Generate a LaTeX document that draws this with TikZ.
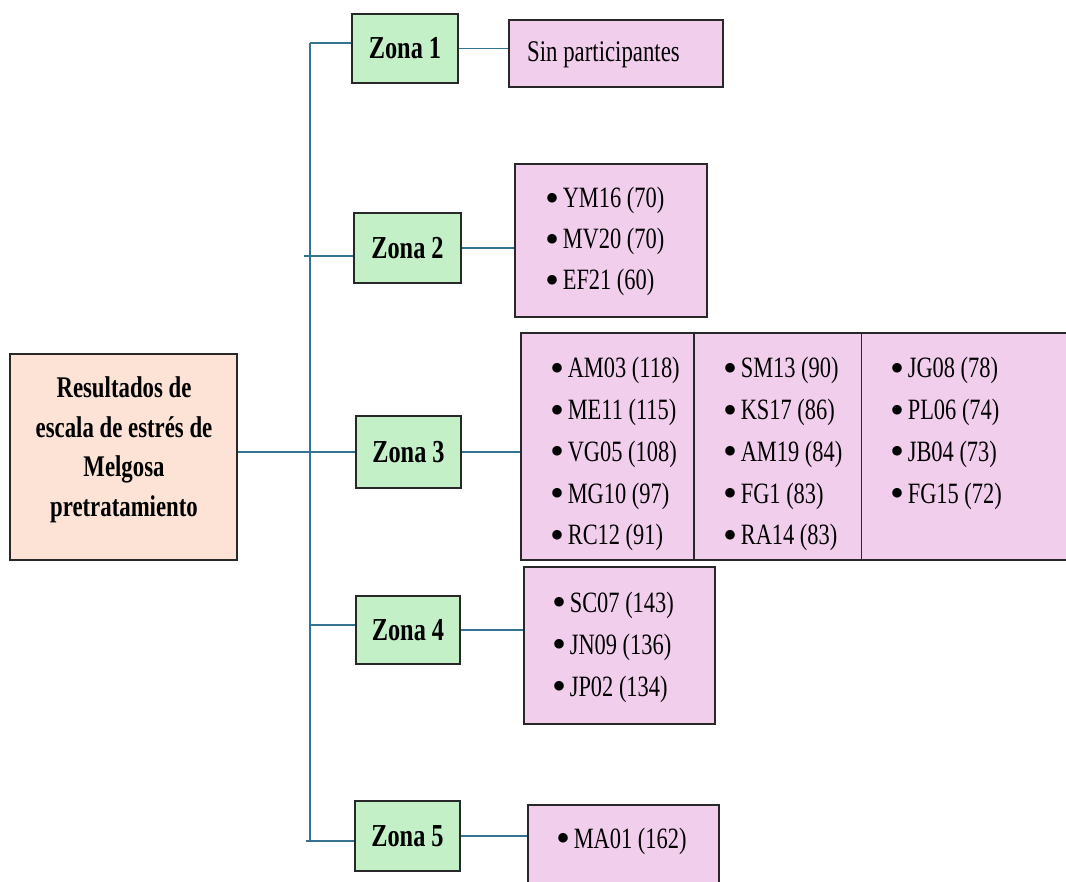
\documentclass[tikz,border=0pt]{standalone}
\usepackage{fontspec}
\setmainfont{Liberation Serif}[FakeStretch=0.76]
\newfontfamily\bulfont{Liberation Serif}
\newcommand{\bul}{{\bulfont\fontsize{40}{40}\selectfont\raisebox{-3.5pt}{\textbullet}}\kern3pt}
\definecolor{zgreen}{RGB}{196,240,200}
\definecolor{zpink}{RGB}{241,206,236}
\definecolor{zpeach}{RGB}{252,227,214}
\definecolor{zline}{RGB}{52,115,145}
\definecolor{zborder}{RGB}{40,40,40}
\tikzset{
  box/.style={draw=zborder, line width=1.3pt, inner sep=0pt, rectangle},
  zonebox/.style={box, fill=zgreen, font=\bfseries\fontsize{32}{38}\selectfont},
  pinkbox/.style={box, fill=zpink},
  rootbox/.style={box, fill=zpeach},
  roottext/.style={anchor=base, inner sep=0pt, font=\bfseries\fontsize{30}{36}\selectfont},
  item/.style={anchor=base west, inner sep=0pt, font=\fontsize{29.5}{36}\selectfont},
  conn/.style={draw=zline, line width=1.3pt},
}
\begin{document}
\begin{tikzpicture}[x=1pt, y=-1pt]
\useasboundingbox (0,0) rectangle (1066,882);
% root
\node[rootbox, minimum width=227pt, minimum height=206pt] (root) at (123.5,457) {};
\node[roottext] (rt1) at (124,398) {Resultados de};
\node[roottext] (rt2) at (124,437.5) {escala de estrés de};
\node[roottext] (rt3) at (124,477) {Melgosa};
\node[roottext] (rt4) at (124,516.5) {pretratamiento};
% zones
\node[zonebox, minimum width=106pt, minimum height=69pt] (z1) at (405,48.5) {Zona 1};
\node[zonebox, minimum width=107pt, minimum height=70pt] (z2) at (407.5,248) {Zona 2};
\node[zonebox, minimum width=105pt, minimum height=72pt] (z3) at (408.5,452) {Zona 3};
\node[zonebox, minimum width=104pt, minimum height=68pt] (z4) at (408,630) {Zona 4};
\node[zonebox, minimum width=105pt, minimum height=70pt] (z5) at (407.5,836) {Zona 5};
% pink boxes
\node[pinkbox, minimum width=214pt, minimum height=67pt] (p1) at (616,53.5) {};
\node[pinkbox, minimum width=192pt, minimum height=153pt] (p2) at (611,240.5) {};
\node[pinkbox, minimum width=559pt, minimum height=227pt] (p3) at (800.5,446.5) {};
\node[pinkbox, minimum width=191pt, minimum height=157pt] (p4) at (619.5,645.5) {};
\node[pinkbox, minimum width=191pt, minimum height=95pt] (p5) at (623.5,852.5) {};
\coordinate (d1) at (694,0);
\coordinate (d2) at (861.5,0);
\draw[draw=zborder, line width=1.3pt] (p3.north -| d1) -- (p3.south -| d1);
\draw[draw=zborder, line width=1.3pt] (p3.north -| d2) -- (p3.south -| d2);
% texts
\node[item, font=\fontsize{30}{36}\selectfont] (sp) at (527,62) {Sin participantes};
\foreach \t [count=\i from 0] in {YM16 (70), MV20 (70), EF21 (60)}
  \node[item] (a\i) at (545.6,208+41*\i) {\bul\t};
\foreach \t [count=\i from 0] in {AM03 (118), ME11 (115), VG05 (108), MG10 (97), RC12 (91)}
  \node[item] (b\i) at (550.6,378+41.7*\i) {\bul\t};
\foreach \t [count=\i from 0] in {SM13 (90), KS17 (86), AM19 (84), FG1 (83), RA14 (83)}
  \node[item] (c\i) at (723.6,378+41.7*\i) {\bul\t};
\foreach \t [count=\i from 0] in {JG08 (78), PL06 (74), JB04 (73), FG15 (72)}
  \node[item] (e\i) at (890.6,378+41.7*\i) {\bul\t};
\foreach \t [count=\i from 0] in {SC07 (143), JN09 (136), JP02 (134)}
  \node[item] (f\i) at (552.6,612+42*\i) {\bul\t};
\node[item] (g0) at (556.6,848) {\bul MA01 (162)};
% connectors
\coordinate (ttop) at (310,43);
\coordinate (tbot) at (310,841);
\coordinate (c2) at (304,256);
\coordinate (c4) at (310,625);
\coordinate (c5) at (306,841);
\draw[conn] (ttop) -- (tbot);
\draw[conn] (ttop) -- (ttop -| z1.west);
\draw[conn] (c2) -- (c2 -| z2.west);
\draw[conn] (root.east |- z3.west) -- (z3.west);
\draw[conn] (c4) -- (c4 -| z4.west);
\draw[conn] (c5) -- (c5 -| z5.west);
\draw[conn] (z1.east) -- (z1.east -| p1.west);
\draw[conn] (z2.east) -- (z2.east -| p2.west);
\draw[conn] (z3.east) -- (z3.east -| p3.west);
\draw[conn] (z4.east) -- (z4.east -| p4.west);
\draw[conn] (z5.east) -- (z5.east -| p5.west);
\end{tikzpicture}
\end{document}
